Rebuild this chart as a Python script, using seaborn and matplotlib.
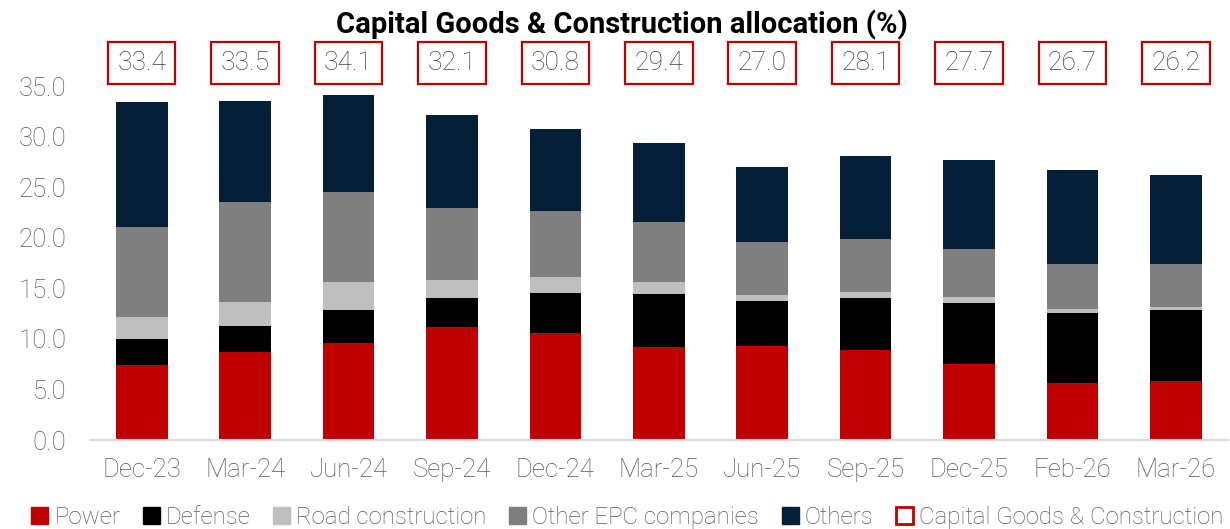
import numpy as np
import pandas as pd
import matplotlib
matplotlib.use("Agg")
import matplotlib.pyplot as plt
import seaborn as sns
from matplotlib.patches import Patch
from matplotlib.ticker import FixedLocator

# data (%)
quarters = ["Dec-23", "Mar-24", "Jun-24", "Sep-24", "Dec-24", "Mar-25",
            "Jun-25", "Sep-25", "Dec-25", "Feb-26", "Mar-26"]
power = [7.4, 8.7, 9.6, 11.2, 10.55, 9.2, 9.3, 8.9, 7.5, 5.6, 5.8]
defense = [2.55, 2.6, 3.25, 2.8, 3.95, 5.2, 4.5, 5.15, 6.1, 7.0, 7.1]
road = [2.2, 2.4, 2.75, 1.85, 1.6, 1.2, 0.55, 0.6, 0.5, 0.4, 0.3]
other_epc = [8.95, 9.85, 8.95, 7.1, 6.5, 6.0, 5.25, 5.25, 4.8, 4.45, 4.2]
others = [12.3, 9.95, 9.55, 9.15, 8.2, 7.8, 7.4, 8.2, 8.8, 9.25, 8.8]
totals = [33.4, 33.5, 34.1, 32.1, 30.8, 29.4, 27.0, 28.1, 27.7, 26.7, 26.2]

series_names = ["Power", "Defense", "Road construction", "Other EPC companies", "Others"]
colors = ["#C00000", "#000000", "#BFBFBF", "#7F7F7F", "#061F38"]

df = pd.DataFrame({"quarter": quarters, "Power": power, "Defense": defense,
                   "Road construction": road, "Other EPC companies": other_epc,
                   "Others": others})
# cumulative stacks, drawn from the top layer down
cum = df[series_names].cumsum(axis=1)
cum["quarter"] = df["quarter"]

sns.set_style("white")
plt.rcParams["font.family"] = ["Roboto", "DejaVu Sans"]

fig = plt.figure(figsize=(12.3, 5.29), dpi=100)
ax = fig.add_axes([0.0732, 0.168, 0.9248, 0.765])

for name, col in reversed(list(zip(series_names, colors))):
    sns.barplot(data=cum, x="quarter", y=name, order=quarters, color=col,
                width=0.5, linewidth=0, saturation=1, ax=ax)

# total labels in red boxes
for i, t in enumerate(totals):
    ax.text(i, 37.3, f"{t:.1f}", ha="center", va="center", fontsize=19,
            color="#404040", fontweight="light",
            bbox=dict(boxstyle="square,pad=0.35", fc="white", ec="#C00000", lw=1.6))

ax.set_ylim(0, 40)
ax.set_xlim(-0.5, len(quarters) - 0.5)
ax.set_yticks(np.arange(0, 36, 5))
ax.set_yticklabels([f"{v:.1f}" for v in np.arange(0, 36, 5)])
ax.set_xlabel("")
ax.set_ylabel("")
ax.tick_params(axis="y", length=0, labelsize=18.5, labelcolor="#595959", pad=17)
ax.tick_params(axis="x", which="major", length=0, labelsize=18.5,
               labelcolor="#595959", pad=13)
ax.xaxis.set_minor_locator(FixedLocator(np.arange(-0.5, len(quarters), 1)))
ax.tick_params(axis="x", which="minor", length=8, width=1.2, color="#D9D9D9")
for lab in ax.get_xticklabels() + ax.get_yticklabels():
    lab.set_fontweight("light")

for s in ["top", "right", "left"]:
    ax.spines[s].set_visible(False)
ax.spines["bottom"].set_color("#D9D9D9")
ax.spines["bottom"].set_linewidth(1.5)

fig.text(0.506, 0.952, "Capital Goods & Construction allocation (%)",
         ha="center", va="center", fontsize=21, fontweight="bold", color="black")

handles = [Patch(facecolor=c, edgecolor=c, label=n) for n, c in zip(series_names, colors)]
handles.append(Patch(facecolor="white", edgecolor="#C00000", linewidth=2,
                     label="Capital Goods & Construction"))
leg = fig.legend(handles=handles, loc="center", bbox_to_anchor=(0.51, 0.022),
                 ncol=6, frameon=False, fontsize=17.3, handlelength=0.7,
                 handleheight=0.7, handletextpad=0.25, columnspacing=0.95,
                 borderpad=0.1)
for t in leg.get_texts():
    t.set_color("#595959")
    t.set_fontweight("light")

fig.savefig("out.png", dpi=100)
